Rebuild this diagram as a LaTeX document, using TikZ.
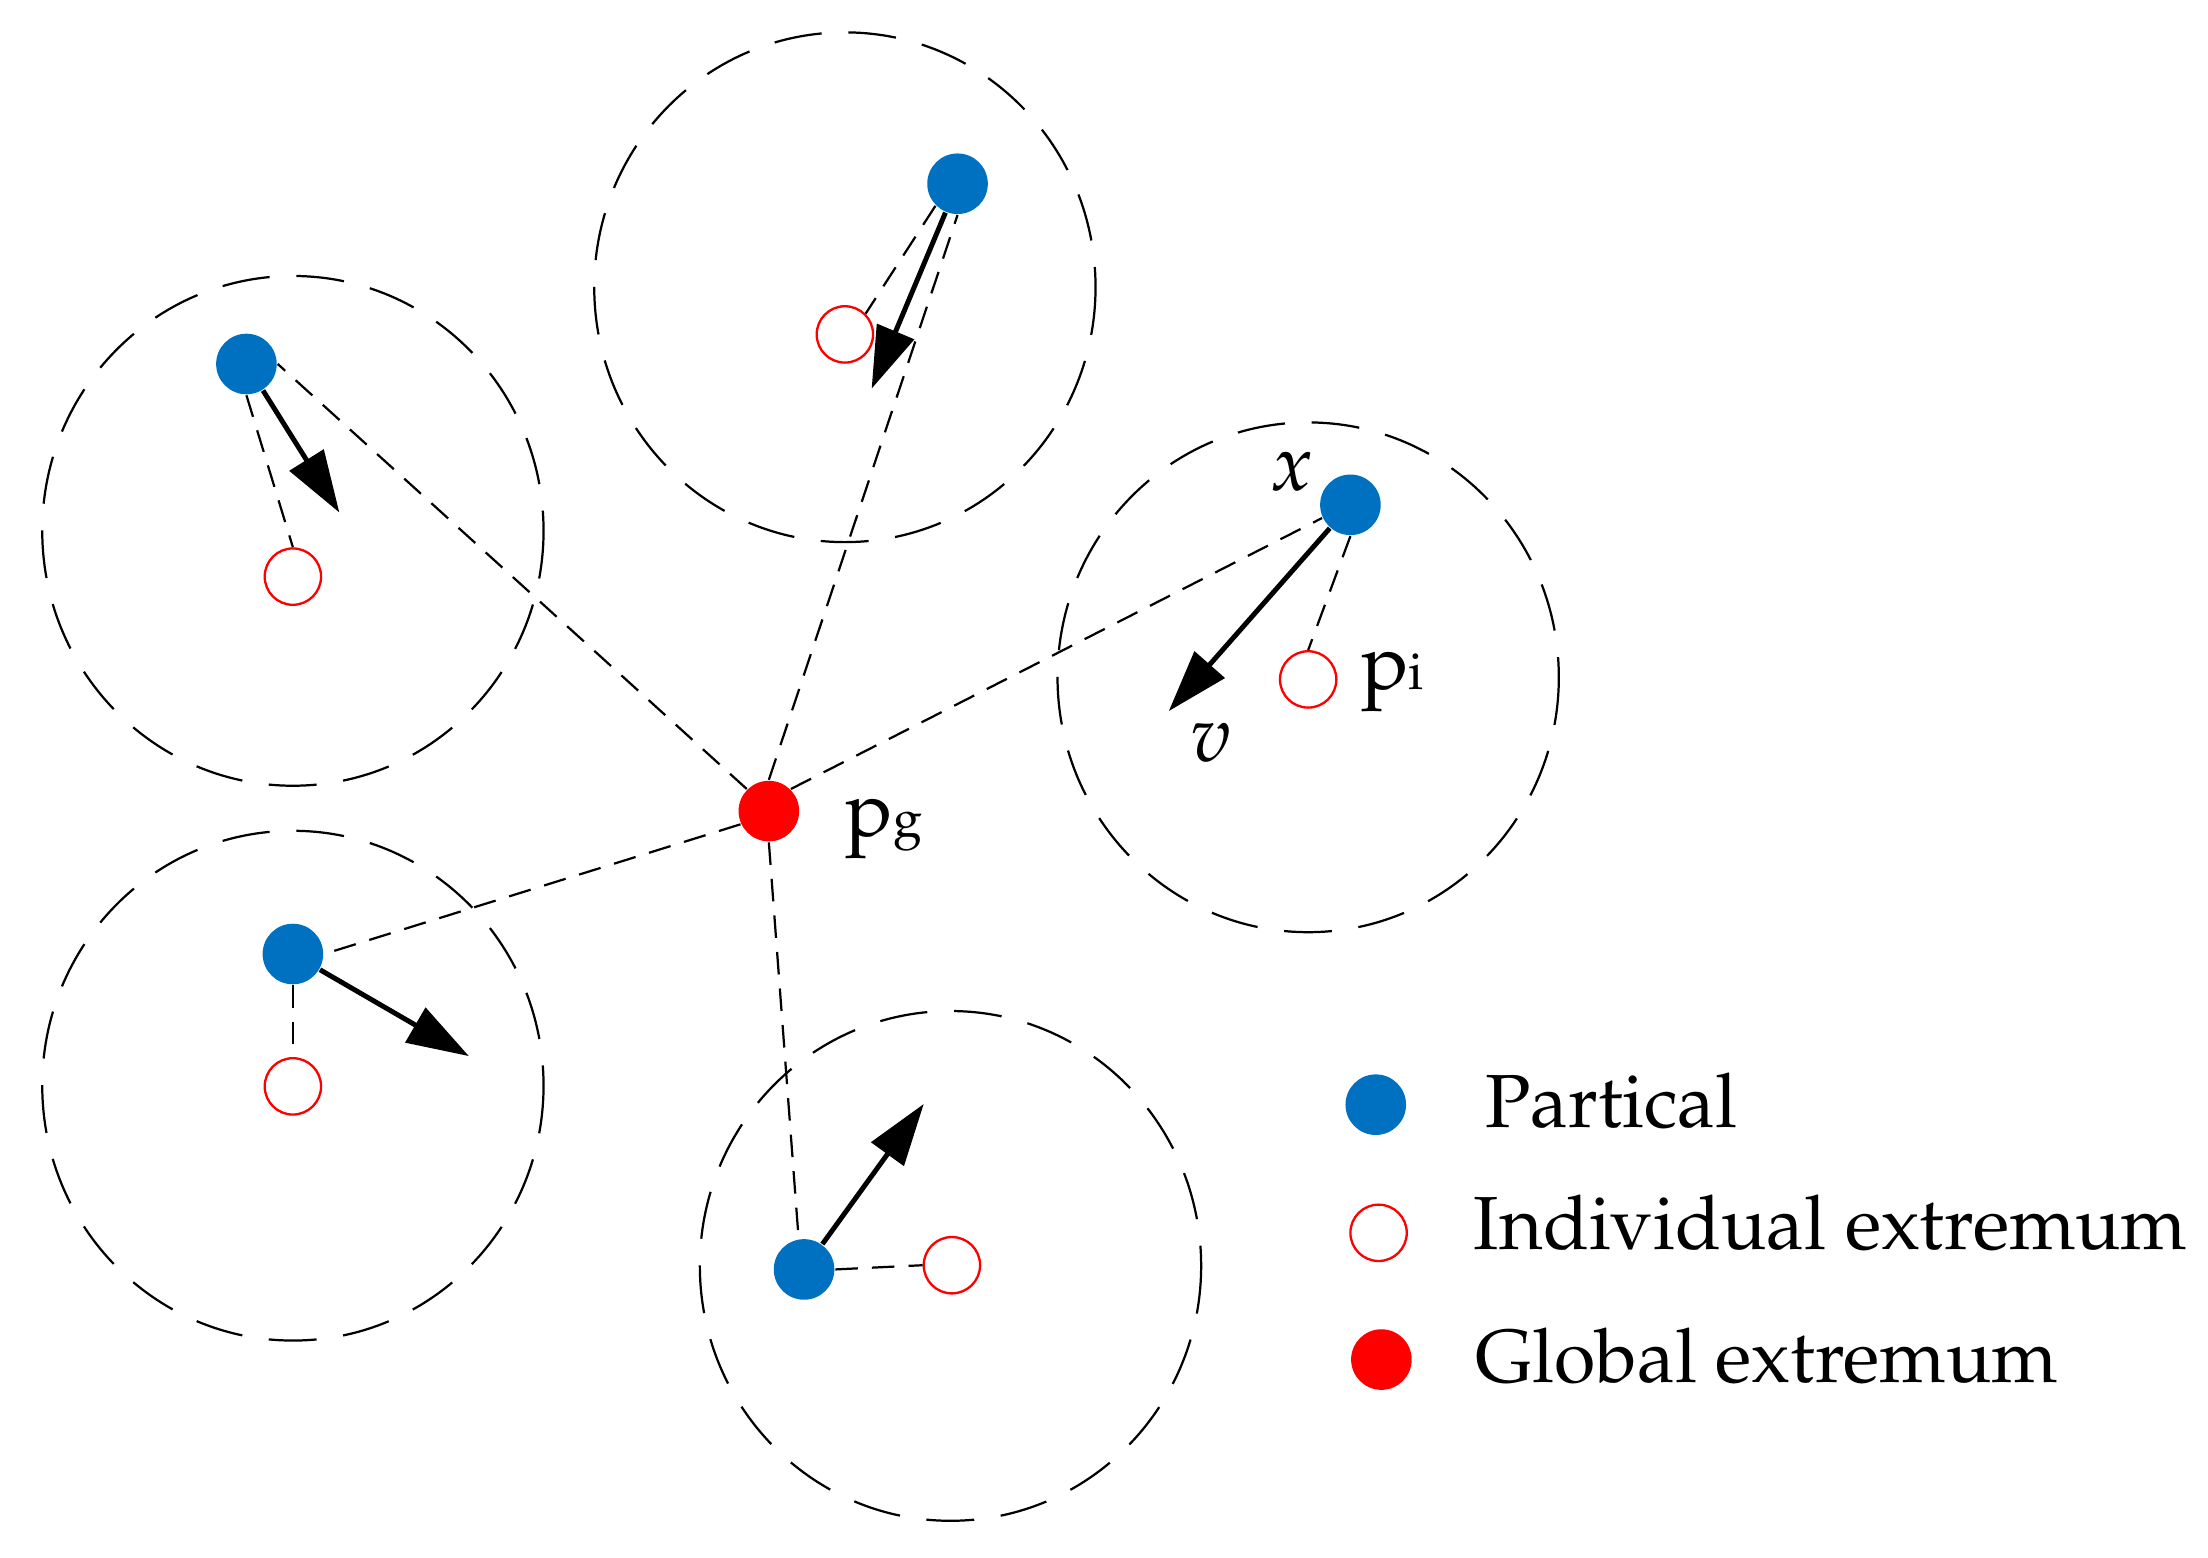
\documentclass[tikz,border=0pt]{standalone}
\usepackage{amsmath}
\usepackage[T1]{fontenc}
\usepackage{mathpazo}
\usetikzlibrary{arrows.meta}
\definecolor{particleblue}{HTML}{0070C0}
\tikzset{
  particle/.style={circle,fill=particleblue,inner sep=0pt,minimum size=0.43cm},
  individual/.style={circle,draw=red,line width=0.47pt,fill=white,inner sep=0pt,minimum size=0.40cm},
  globalbest/.style={circle,fill=red,inner sep=0pt,minimum size=0.43cm},
  region/.style={line width=0.45pt,dash pattern=on 0.34cm off 0.19cm},
  link/.style={line width=0.45pt,dash pattern=on 0.16cm off 0.10cm},
  velocity/.style={line width=1pt,-{Triangle[length=4.4mm,width=2.8mm]}},
  lbl/.style={inner sep=0pt,anchor=base west,font=\fontsize{16}{19}\selectfont},
  keytext/.style={lbl,font=\fontsize{15.2}{18}\selectfont},
}
\begin{document}
\begin{tikzpicture}[x=0.01cm,y=-0.01cm]
\useasboundingbox (0,0) rectangle (1568,1105.8);
\draw[region](600,204) ellipse (178 and 181);
\draw[region](208,377) ellipse (178 and 181);
\draw[region](929,481) ellipse (178 and 181);
\draw[region](208,771) ellipse (178 and 181);
\draw[region](675,899) ellipse (178 and 181);
\node[globalbest] (g) at (546,576) {};
\node[particle] (p1) at (680,130.5) {};
\node[particle] (p2) at (175,258.5) {};
\node[particle] (p3) at (959,358.5) {};
\node[particle] (p4) at (208,677.5) {};
\node[particle] (p5) at (571,901.5) {};
\node[individual] (e1) at (600,237.5) {};
\node[individual] (e2) at (208,409.5) {};
\node[individual] (e3) at (929,482.5) {};
\node[individual] (e4) at (208,771.5) {};
\node[individual] (e5) at (676,898.5) {};
\coordinate (t1) at (619,276);
\coordinate (t2) at (241,364);
\coordinate (t3) at (830,505);
\coordinate (t4) at (333,750);
\coordinate (t5) at (656,784);
\draw[link](g.north)--(p1.south);
\draw[link](g.north west)--(p2.east);
\draw[link](g.north east)--(p3.205);
\draw[link](g.205)--(p4.east);
\draw[link](g.south)--(p5.100);
\draw[link](p1.south west)--(e1.north east);
\draw[link](p2.south)--(e2.north);
\draw[link](p3.south)--(e3.north);
\draw[link](p4.south)--(e4.north);
\draw[link](p5.east)--(e5.west);
\foreach \i in {1,...,5}{
\draw[velocity](p\i)--(t\i);
}
\node[lbl] (lx) at (901,348) {$x$};
\node[lbl] (lv) at (845,541) {$v$};
\node[lbl] (lpi) at (966,490) {p{\fontsize{10.5}{13}\selectfont i}};
\node[lbl] (lpg) at (600,594) {p{\fontsize{10.5}{13}\selectfont g}};
\node[particle] (k1) at (977,784.5) {};
\node[individual] (k2) at (979,875.5) {};
\node[globalbest] (k3) at (981,965.5) {};
\node[keytext] (n1) at (1054,801) {Partical};
\node[keytext] (n2) at (1046,887) {Individual extremum};
\node[keytext] (n3) at (1047,981.5) {Global extremum};
\end{tikzpicture}
\end{document}
